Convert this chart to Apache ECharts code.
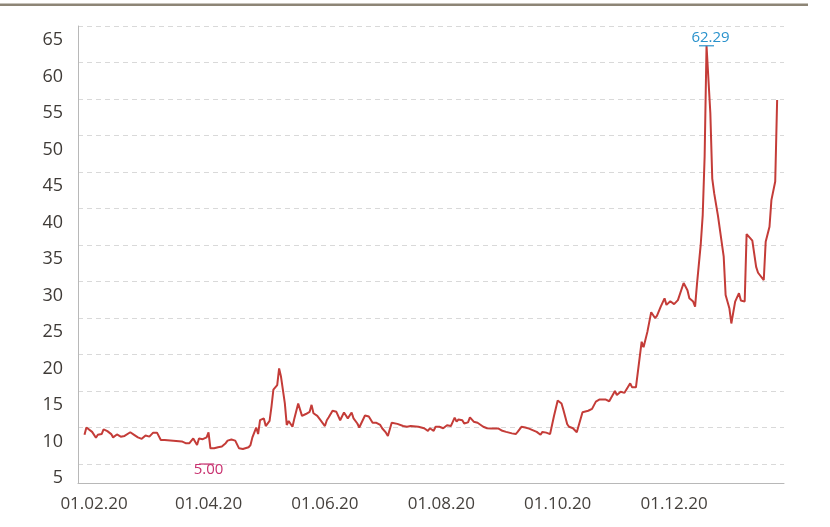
<!DOCTYPE html>
<html>
<head>
<meta charset="utf-8">
<script src="https://cdn.jsdelivr.net/npm/echarts@6/dist/echarts.min.js"></script>
<style>
  html, body { margin: 0; padding: 0; background: #ffffff; }
  #chart { width: 830px; height: 527px; }
</style>
</head>
<body>
<div id="chart"></div>
<script>
// Dates are stored as day offsets from this base date (UTC)
const baseDate = '2020-02-01';
const dayOffsets = [
  -5, -4, -1, 1, 2, 4, 5, 7, 9, 10, 12, 14, 16, 19, 21, 23, 25, 27, 29, 31, 33, 35, 37,
  46, 48, 50, 52, 54, 55, 57, 59, 60, 61, 62, 63, 65, 66, 67, 69, 70, 72, 74, 75, 76, 78, 79, 81,
  82, 83, 85, 86, 87, 89, 90, 92, 93, 94, 96, 97, 98, 100, 101, 102, 104, 105, 107, 108, 109,
  111, 113, 114, 115, 117, 118, 121, 122, 123, 125, 127, 128, 129, 131, 132, 133, 135, 136,
  138, 139, 140, 142, 144, 145, 146, 148, 150, 151, 153, 154, 156, 157, 159, 160, 162, 164,
  166, 167, 170, 173, 175, 176, 178, 179, 181, 183, 185, 187, 189, 190, 191, 193, 194, 196,
  197, 199, 201, 202, 204, 206, 208, 212, 214, 216, 219, 221, 222, 224, 226, 228, 229, 232,
  234, 235, 237, 238, 239, 241, 243, 245, 246, 248, 249, 251, 253, 256, 257, 259, 261, 262,
  263, 265, 268, 270, 273, 274, 276, 277, 278, 281, 282, 284, 287, 288, 290, 292, 294, 295,
  297, 299, 300, 302, 304, 305, 306, 309, 311, 312, 314, 315, 316, 318, 319, 320, 321, 323,
  324, 325, 327, 328, 330, 331, 333, 334, 336, 337, 338, 339, 341, 342, 344, 345, 347, 348,
  351, 352, 354, 355, 357, 358
];
const prices = [
  9.0, 10.0, 9.4, 8.6, 9.0, 9.1, 9.75, 9.5, 9.1, 8.65, 9.05, 8.75, 8.85, 9.35, 9.0, 8.65, 8.45, 8.9, 8.75, 9.3, 9.3, 8.3, 8.3,
  8.1, 7.85, 7.85, 8.5, 7.6, 8.5, 8.4, 8.65, 9.35, 7.15, 7.4, 7.15, 7.3, 7.1, 7.4, 7.85, 8.2, 8.35, 8.2, 8.4, 7.15, 7.05, 7.05, 7.3,
  7.6, 8.65, 10.0, 9.1, 11.0, 11.25, 10.2, 10.9, 12.85, 15.2, 15.8, 18.1, 16.95, 13.3, 10.35, 10.9, 10.1, 11.25, 13.3, 13.2, 11.6,
  11.85, 12.15, 13.1, 11.95, 11.6, 11.25, 10.2, 11.0, 11.4, 12.3, 12.15, 12.05, 11.0, 12.05, 11.95, 11.25, 12.05, 11.25,
  10.55, 10.0, 10.0, 11.65, 11.5, 11.25, 10.65, 10.65, 10.35, 9.9, 9.3, 8.85, 10.65, 10.8, 10.5, 10.55, 10.2, 10.1,
  10.2, 10.0, 10.1, 9.9, 9.55, 9.9, 9.55, 10.1, 10.1, 9.9, 10.3, 10.2, 11.35, 10.8, 11.1, 11.0, 10.55, 10.7,
  11.4, 10.8, 10.65, 10.55, 10.1, 9.9, 9.85, 9.85, 9.55, 9.4, 9.2, 9.1, 9.4, 10.1, 10.0, 9.85, 9.75, 9.4,
  9.0, 9.4, 9.3, 9.4, 9.1, 11.5, 13.7, 13.3, 12.4, 10.45, 10.1, 9.9, 9.35, 12.1, 12.1, 12.3, 12.55, 12.5,
  13.55, 13.85, 13.85, 13.6, 15.0, 14.45, 14.9, 15.0, 14.75, 16.05, 15.5, 15.5, 21.75, 21.0, 23.1, 25.8, 25.0, 25.3,
  26.55, 27.7, 26.8, 27.3, 26.9, 27.0, 27.45, 29.8, 28.8, 27.7, 27.25, 26.55, 29.65, 35.2, 39.1, 47.1, 62.29, 53.05,
  44.1, 42.1, 39.0, 38.8, 33.4, 28.15, 26.3, 24.25, 27.25, 27.25, 28.4, 27.4, 27.25, 36.5, 35.9, 35.6, 32.0, 31.2,
  30.2, 35.45, 37.5, 41.15, 43.7, 54.85
];
const xTickDates = ['2020-02-01', '2020-04-01', '2020-06-01', '2020-08-01', '2020-10-01', '2020-12-01'];
const yTicks = [5, 10, 15, 20, 25, 30, 35, 40, 45, 50, 55, 60, 65];
// annotation marks: [day offset, value, label]
const minMark = [59, 5.00, '5.00'];
const maxLabelDigits = 2;

const DAY = 86400000;
const baseTs = Date.parse(baseDate + 'T00:00:00Z');
const toTs = d => baseTs + d * DAY;
const seriesData = dayOffsets.map((d, i) => [toTs(d), prices[i]]);
const xTicksTs = xTickDates.map(s => Date.parse(s + 'T00:00:00Z'));
const pad2 = n => (n < 10 ? '0' : '') + n;
const fmtDate = v => {
  const t = new Date(v);
  return pad2(t.getUTCDate()) + '.' + pad2(t.getUTCMonth() + 1) + '.' + pad2(t.getUTCFullYear() % 100);
};

const chart = echarts.init(document.getElementById('chart'), null, { renderer: 'canvas' });
chart.setOption({
  animation: false,
  backgroundColor: '#ffffff',
  textStyle: { fontFamily: 'Open Sans' },
  graphic: [{
    type: 'rect', left: 0, top: 3.5, silent: true,
    shape: { width: 808, height: 2.5 },
    style: { fill: '#8d8576' }
  }],
  grid: { left: 78, right: 46, top: 26, bottom: 44, containLabel: false },
  xAxis: {
    type: 'value',
    min: toTs(-8.4),
    max: toTs(361.6),
    axisLine: { show: true, onZero: false, lineStyle: { color: '#b8b8b8', width: 1 } },
    axisTick: { show: false, customValues: xTicksTs },
    splitLine: { show: false },
    axisLabel: {
      customValues: xTicksTs,
      formatter: v => fmtDate(v),
      color: '#45413d',
      fontSize: 17,
      fontFamily: 'Open Sans',
      margin: 13,
      showMinLabel: true,
      showMaxLabel: true
    }
  },
  yAxis: {
    type: 'value',
    min: 2.4,
    max: 65,
    axisLine: { show: true, lineStyle: { color: '#b8b8b8', width: 1 } },
    axisTick: { show: false, customValues: yTicks },
    splitLine: { show: true, lineStyle: { color: '#d9d9d9', type: [5, 4], width: 1 } },
    axisLabel: {
      customValues: yTicks,
      color: '#3f3b37',
      fontSize: 18,
      fontFamily: 'Open Sans',
      margin: 15,
      verticalAlign: 'top',
      padding: [5, 0, 0, 0]
    }
  },
  series: [{
    type: 'line',
    data: seriesData,
    showSymbol: false,
    symbol: 'none',
    lineStyle: { color: '#c43c38', width: 2 },
    itemStyle: { color: '#c43c38' },
    markPoint: {
      silent: true,
      symbol: 'rect',
      symbolSize: [15, 1.2],
      data: [
        {
          type: 'max',
          itemStyle: { color: '#2a92cc' },
          label: {
            show: true, position: 'top', distance: 0, offset: [4, 0],
            formatter: p => Number(p.value).toFixed(maxLabelDigits),
            color: '#2a92cc', fontSize: 15, fontFamily: 'Open Sans'
          }
        },
        {
          coord: [toTs(minMark[0]), minMark[1]],
          value: minMark[1],
          itemStyle: { color: '#c8306f' },
          label: {
            show: true, position: 'bottom', distance: -2, offset: [2, 0],
            formatter: minMark[2],
            color: '#c8306f', fontSize: 15, fontFamily: 'Open Sans'
          }
        }
      ]
    }
  }]
});
</script>
</body>
</html>
